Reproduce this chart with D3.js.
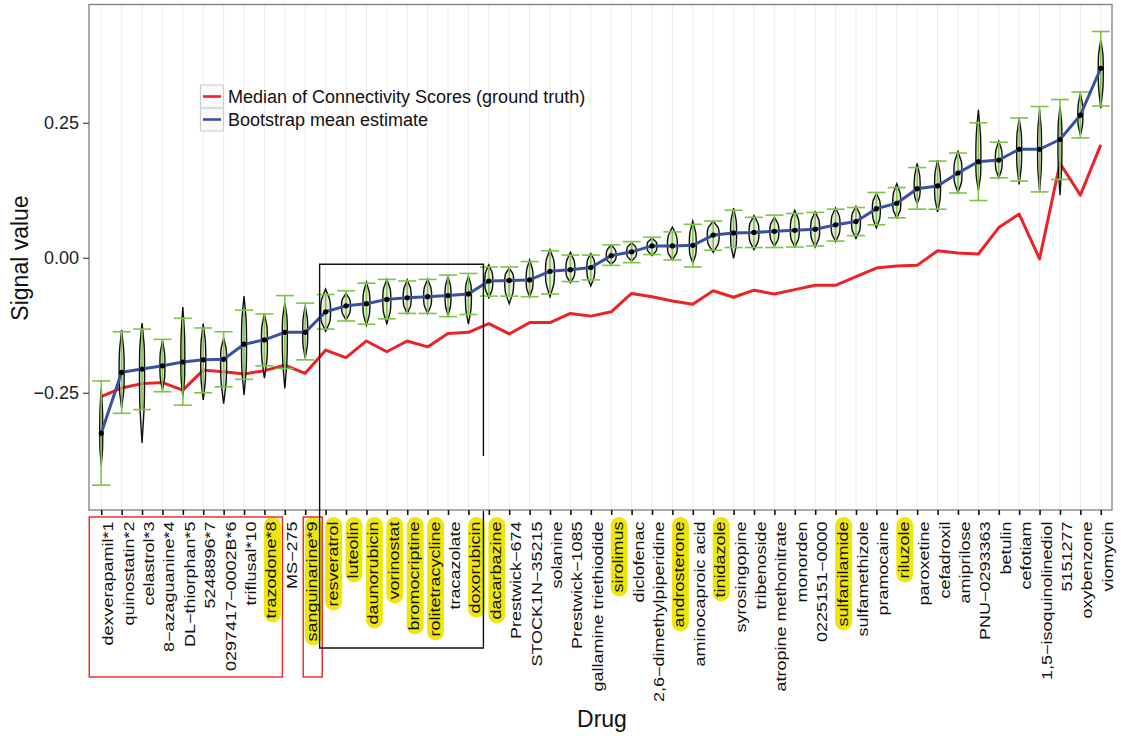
<!DOCTYPE html>
<html>
<head>
<meta charset="utf-8">
<script src="https://cdn.jsdelivr.net/npm/d3@7"></script>
<style>
  body { margin: 0; background: #fff; }
  svg { font-family: "Liberation Sans", Arial, sans-serif; }
</style>
</head>
<body>
<svg id="canvas" width="1121" height="736"></svg>
<script>
// ************************************************************************************** //
// Data

var drugs = ['dexverapamil*1', 'quinostatin*2', 'celastrol*3', '8−azaguanine*4', 'DL−thiorphan*5',
  '5248896*7', '0297417−0002B*6', 'triflusal*10', 'trazodone*8', 'MS−275', 'sanguinarine*9',
  'resveratrol', 'luteolin', 'daunorubicin', 'vorinostat', 'bromocriptine', 'rolitetracycline',
  'tracazolate', 'doxorubicin', 'dacarbazine', 'Prestwick−674', 'STOCK1N−35215', 'solanine',
  'Prestwick−1085', 'gallamine triethiodide', 'sirolimus', 'diclofenac', '2,6−dimethylpiperidine',
  'androsterone', 'aminocaproic acid', 'tinidazole', 'syrosingopine', 'tribenoside',
  'atropine methonitrate', 'monorden', '0225151−0000', 'sulfanilamide', 'sulfamethizole',
  'pramocaine', 'riluzole', 'paroxetine', 'cefadroxil', 'amiprilose', 'PNU−0293363', 'betulin',
  'cefotiam', '1,5−isoquinolinediol', '5151277', 'oxybenzone', 'viomycin'];

var highlighted = ['trazodone*8', 'sanguinarine*9', 'resveratrol', 'luteolin', 'daunorubicin',
  'vorinostat', 'bromocriptine', 'rolitetracycline', 'doxorubicin', 'dacarbazine', 'sirolimus',
  'androsterone', 'tinidazole', 'sulfanilamide', 'riluzole'];

// median of connectivity scores (red line)
var groundTruth = [-0.257, -0.241, -0.233, -0.231, -0.245, -0.208, -0.211, -0.215, -0.209, -0.199,
  -0.214, -0.171, -0.185, -0.154, -0.174, -0.154, -0.165, -0.140, -0.138, -0.122,
  -0.141, -0.120, -0.120, -0.103, -0.108, -0.100, -0.066, -0.072, -0.080, -0.086,
  -0.061, -0.073, -0.060, -0.067, -0.059, -0.051, -0.051, -0.035, -0.019, -0.015,
  -0.014, 0.013, 0.009, 0.007, 0.056, 0.081, -0.002, 0.175, 0.116, 0.209];

// bootstrap mean (blue line + dots)
var bootMean = [-0.325, -0.212, -0.206, -0.200, -0.193, -0.189, -0.188, -0.160, -0.152, -0.138,
  -0.138, -0.100, -0.089, -0.085, -0.077, -0.074, -0.072, -0.070, -0.067, -0.043,
  -0.042, -0.041, -0.025, -0.022, -0.018, 0.004, 0.011, 0.022, 0.022, 0.023,
  0.042, 0.046, 0.047, 0.049, 0.051, 0.053, 0.061, 0.067, 0.091, 0.101,
  0.128, 0.133, 0.157, 0.178, 0.181, 0.201, 0.201, 0.219, 0.264, 0.351];

// green error bars
var ciLow = [-0.421, -0.288, -0.281, -0.248, -0.273, -0.250, -0.239, -0.225, -0.200, -0.205,
  -0.189, -0.132, -0.117, -0.123, -0.113, -0.103, -0.103, -0.109, -0.105, -0.071,
  -0.071, -0.072, -0.067, -0.044, -0.041, -0.014, -0.009, 0.006, -0.004, -0.017,
  0.014, 0.019, 0.019, 0.019, 0.020, 0.022, 0.031, 0.041, 0.061, 0.074,
  0.090, 0.090, 0.120, 0.106, 0.148, 0.142, 0.122, 0.145, 0.222, 0.281];
var ciHigh = [-0.228, -0.137, -0.132, -0.151, -0.112, -0.130, -0.137, -0.097, -0.104, -0.070,
  -0.084, -0.068, -0.061, -0.047, -0.040, -0.043, -0.040, -0.032, -0.029, -0.017,
  -0.017, -0.007, 0.013, 0.005, 0.005, 0.024, 0.030, 0.038, 0.048, 0.062,
  0.068, 0.088, 0.075, 0.079, 0.082, 0.084, 0.090, 0.093, 0.121, 0.130,
  0.167, 0.179, 0.194, 0.250, 0.214, 0.259, 0.280, 0.293, 0.307, 0.419];

// violin extents and relative peak density
var violinMin = [-0.384, -0.278, -0.343, -0.245, -0.257, -0.263, -0.270, -0.254, -0.223, -0.242,
  -0.186, -0.136, -0.115, -0.125, -0.122, -0.103, -0.103, -0.107, -0.123, -0.074,
  -0.085, -0.072, -0.072, -0.046, -0.052, -0.012, -0.006, 0.004, -0.004, -0.010,
  0.010, -0.001, 0.015, 0.021, 0.020, 0.020, 0.030, 0.036, 0.055, 0.074,
  0.100, 0.085, 0.121, 0.125, 0.148, 0.136, 0.124, 0.116, 0.227, 0.277];
var violinMax = [-0.241, -0.134, -0.121, -0.153, -0.091, -0.122, -0.149, -0.071, -0.104, -0.084,
  -0.089, -0.058, -0.066, -0.045, -0.040, -0.041, -0.040, -0.035, -0.034, -0.013,
  -0.019, -0.004, 0.015, 0.010, 0.008, 0.024, 0.028, 0.036, 0.057, 0.068,
  0.068, 0.092, 0.078, 0.075, 0.088, 0.085, 0.092, 0.095, 0.119, 0.137,
  0.175, 0.181, 0.197, 0.274, 0.216, 0.258, 0.274, 0.280, 0.304, 0.403];
var violinDensity = [0.25, 0.42, 0.42, 0.42, 0.33, 0.42, 0.5, 0.42, 0.5, 0.42,
  0.42, 0.83, 0.75, 0.58, 0.67, 0.67, 0.67, 0.5, 0.5, 0.67,
  0.75, 0.58, 0.75, 0.75, 0.67, 0.83, 0.83, 0.83, 0.83, 0.58,
  1.0, 0.5, 0.83, 0.75, 0.75, 0.75, 0.75, 0.75, 0.67, 0.67,
  0.5, 0.5, 0.67, 0.42, 0.58, 0.42, 0.33, 0.33, 0.42, 0.42];

var yTicks = [-0.25, 0, 0.25];
var legendLabels = ['Median of Connectivity Scores (ground truth)', 'Bootstrap mean estimate'];

// ************************************************************************************** //
// Setup

var panel = { left: 89, right: 1112, top: 4.5, bottom: 510 };
var col = { red: '#ec2227', blue: '#3a51a2', green: '#7cc444', yellow: '#efe60e', grid: '#ececec' };

var svg = d3.select('#canvas');

var x = d3.scalePoint().domain(drugs).range([panel.left, panel.right + 1]).padding(0.6);
var y = d3.scaleLinear().domain([-0.467, 0.469]).range([panel.bottom, panel.top]);
var w = d3.scaleLinear().domain([0, 1]).range([0, 6]);

var rows = drugs.map((d, i) => {
  return { name: d, gt: groundTruth[i], mean: bootMean[i], lo: ciLow[i], hi: ciHigh[i],
    vmin: violinMin[i], vmax: violinMax[i], dens: violinDensity[i] };
});

// ************************************************************************************** //
// Panel

svg.append('g').selectAll('line').data(drugs).join('line')
  .attr('x1', d => x(d)).attr('x2', d => x(d))
  .attr('y1', panel.top).attr('y2', panel.bottom)
  .attr('stroke', col.grid).attr('stroke-width', 1);

var lineGen = d3.line().x(d => x(d.name));

svg.append('path').datum(rows)
  .attr('d', lineGen.y(d => y(d.gt)))
  .attr('fill', 'none').attr('stroke', col.red).attr('stroke-width', 3).attr('stroke-linejoin', 'round');

// violins
var areaGen = d3.area().y(d => d.y).x0(d => d.cx - d.hw).x1(d => d.cx + d.hw).curve(d3.curveCatmullRom);
svg.append('g').selectAll('path').data(rows).join('path')
  .attr('d', d => {
    var cx = x(d.name), hw = w(d.dens);
    var pts = [
      { y: y(d.vmax), hw: 0 },
      { y: y(d.vmax + (d.mean - d.vmax) * 0.25), hw: hw * 0.45 },
      { y: y((d.vmax + d.mean) / 2), hw: hw * 0.85 },
      { y: y(d.mean), hw: hw },
      { y: y((d.vmin + d.mean) / 2), hw: hw * 0.85 },
      { y: y(d.vmin + (d.mean - d.vmin) * 0.25), hw: hw * 0.45 },
      { y: y(d.vmin), hw: 0 }
    ];
    pts.forEach(p => p.cx = cx);
    return areaGen(pts);
  })
  .attr('fill', '#c9d9b8').attr('fill-opacity', 0.5)
  .attr('stroke', '#111').attr('stroke-width', 1.4);

// error bars
var eb = svg.append('g').selectAll('g').data(rows).join('g');
eb.append('line')
  .attr('x1', d => x(d.name)).attr('x2', d => x(d.name))
  .attr('y1', d => y(d.lo)).attr('y2', d => y(d.hi))
  .attr('stroke', col.green).attr('stroke-width', 1.6);
eb.selectAll('.cap').data(d => [{ n: d.name, v: d.lo }, { n: d.name, v: d.hi }]).join('line')
  .attr('class', 'cap')
  .attr('x1', d => x(d.n) - 9).attr('x2', d => x(d.n) + 9)
  .attr('y1', d => y(d.v)).attr('y2', d => y(d.v))
  .attr('stroke', col.green).attr('stroke-width', 1.6);

svg.append('path').datum(rows)
  .attr('d', lineGen.y(d => y(d.mean)))
  .attr('fill', 'none').attr('stroke', col.blue).attr('stroke-width', 3).attr('stroke-linejoin', 'round');

svg.append('g').selectAll('circle').data(rows).join('circle')
  .attr('cx', d => x(d.name)).attr('cy', d => y(d.mean)).attr('r', 2.6)
  .attr('fill', '#000');

svg.append('rect')
  .attr('x', panel.left).attr('y', panel.top)
  .attr('width', panel.right - panel.left).attr('height', panel.bottom - panel.top)
  .attr('fill', 'none').attr('stroke', '#7f7f7f').attr('stroke-width', 1.3);

// ************************************************************************************** //
// Axes

var yAxis = svg.append('g').attr('transform', 'translate(' + panel.left + ',0)')
  .call(d3.axisLeft(y).tickValues(yTicks).tickSize(6).tickPadding(4).tickFormat(d3.format('.2f')));
yAxis.select('.domain').remove();
yAxis.selectAll('line').attr('stroke', '#444').attr('stroke-width', 1.2);
yAxis.selectAll('text').attr('font-size', 18).attr('fill', '#222').attr('font-family', null);

var xAxis = svg.append('g').attr('transform', 'translate(0,' + panel.bottom + ')')
  .call(d3.axisBottom(x).tickSize(5).tickFormat(''));
xAxis.select('.domain').remove();
xAxis.selectAll('line').attr('stroke', '#111').attr('stroke-width', 1.6);

var labels = svg.append('g').selectAll('g').data(drugs).join('g')
  .attr('transform', d => 'translate(' + (x(d) + 12) + ',521.5) rotate(-90)');
labels.filter(d => highlighted.indexOf(d) >= 0).append('rect');
labels.append('text')
  .attr('text-anchor', 'end').attr('font-size', 18).attr('fill', '#111')
  .attr('transform', 'scale(1,0.8)')
  .text(d => d);
labels.each(function(d){
  var g = d3.select(this);
  var len = g.select('text').node().getComputedTextLength();
  g.select('rect')
    .attr('x', -len - 4).attr('y', -12.5).attr('width', len + 8.5).attr('height', 17)
    .attr('rx', 8.5).attr('fill', col.yellow);
});

svg.append('text')
  .attr('transform', 'translate(28,258) rotate(-90)')
  .attr('text-anchor', 'middle').attr('font-size', 23).attr('fill', '#111')
  .text('Signal value');
svg.append('text')
  .attr('x', 602).attr('y', 726.5)
  .attr('text-anchor', 'middle').attr('font-size', 23).attr('fill', '#111')
  .text('Drug');

// ************************************************************************************** //
// Annotation boxes

var redBoxes = [
  { from: 'dexverapamil*1', to: 'trazodone*8', padL: 12, padR: 18 },
  { from: 'sanguinarine*9', to: 'sanguinarine*9', padL: 2, padR: 17 }
];
svg.append('g').selectAll('rect').data(redBoxes).join('rect')
  .attr('x', d => x(d.from) - d.padL).attr('y', 517)
  .attr('width', d => x(d.to) + d.padR - x(d.from) + d.padL).attr('height', 160)
  .attr('fill', 'none').attr('stroke', col.red).attr('stroke-width', 1.4);

var bx0 = x('resveratrol') - 6, bx1 = x('doxorubicin') + 15, by0 = y(-0.012), by1 = 648;
svg.append('path')
  .attr('d', 'M' + bx1 + ',456 L' + bx1 + ',' + by0 + ' L' + bx0 + ',' + by0 + ' L' + bx0 + ',' + by1 +
    ' L' + bx1 + ',' + by1 + ' L' + bx1 + ',511')
  .attr('fill', 'none').attr('stroke', '#111').attr('stroke-width', 1.4);

// ************************************************************************************** //
// Legend

var legend = svg.append('g').attr('transform', 'translate(200.5,85)');
var item = legend.selectAll('g').data(legendLabels).join('g')
  .attr('transform', (d, i) => 'translate(0,' + (i * 23) + ')');
item.append('rect').attr('width', 23).attr('height', 23)
  .attr('fill', '#fafafa').attr('stroke', '#cfcfcf').attr('stroke-width', 1.2);
item.append('line').attr('x1', 2.5).attr('x2', 20.5).attr('y1', 11.5).attr('y2', 11.5)
  .attr('stroke', (d, i) => i ? col.blue : col.red).attr('stroke-width', 2.6);
item.append('text').attr('x', 27.5).attr('y', 18).attr('font-size', 18).attr('fill', '#111')
  .text(d => d);
</script>
</body>
</html>
